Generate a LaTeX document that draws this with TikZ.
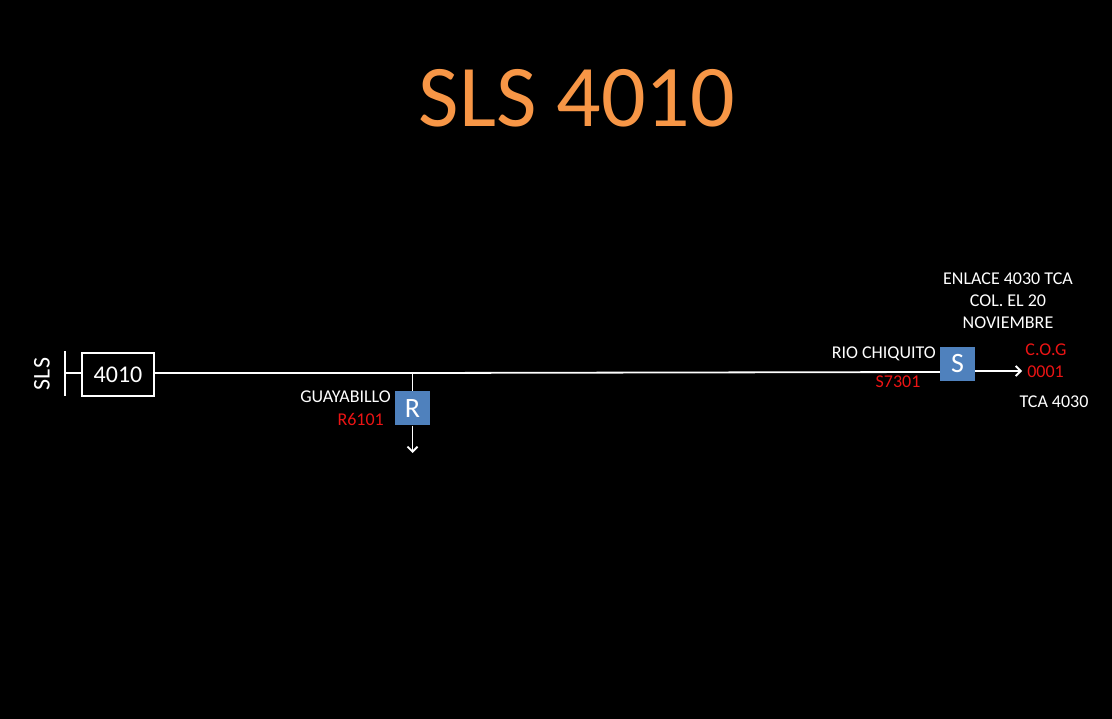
\documentclass[tikz,border=0pt]{standalone}
\usepackage{fontspec}
\setmainfont{Carlito}
\usetikzlibrary{arrows.meta}
\definecolor{ttl}{RGB}{247,150,70}
\definecolor{bx}{RGB}{79,129,189}
\definecolor{rd}{RGB}{235,20,20}
\begin{document}
\begin{tikzpicture}[x=1pt,y=-1pt,
  wire/.style={white,line width=1.8pt},
  lbl/.style={text=white,font=\fontsize{18}{22}\selectfont,inner sep=0pt},
  rlbl/.style={text=rd,font=\fontsize{18}{22}\selectfont,inner sep=0pt},
  sw/.style={fill=bx,draw=none,minimum width=35pt,minimum height=34pt,inner sep=0pt,text=white,font=\fontsize{28}{30}\selectfont},
  arr/.style={wire,-{Straight Barb[length=5pt,width=10pt]}}]
\fill[black] (0,0) rectangle (1112,719);
\useasboundingbox (0,0) rectangle (1112,719);
\node[text=ttl,font=\fontsize{88}{96}\selectfont,inner sep=0pt] (title) at (577,98) {SLS 4010};
% source
\coordinate (bartop) at (65,351);
\coordinate (barbot) at (65,396);
\draw[wire] (bartop) -- (barbot);
\node[draw=white,line width=1.2pt,minimum width=72pt,minimum height=43pt,inner sep=0pt,text=white,font=\fontsize{24}{28}\selectfont] (b4010) at (118,374.5) {4010};
\coordinate (tick) at (65,373);
\draw[wire] (tick) -- (b4010.west |- tick);
\node[text=white,font=\fontsize{24}{28}\selectfont,rotate=90,inner sep=0pt] (sls) at (42,374) {SLS};
% switches
\node[sw] (R) at (412.5,408.5) {R};
\node[sw] (S) at (957.5,364) {S};
\coordinate (junc) at (412.5,373);
\coordinate (rend) at (412.5,453);
\coordinate (send) at (1022,371);
\draw[wire] (b4010.east |- tick) -- (junc) -- (S.west |- 0,372);
\draw[wire] (junc) -- (R.north);
\draw[arr] (R.south) -- (rend);
\draw[arr] (S.east |- send) -- (send);
% labels
\node[lbl,anchor=east] (guay) at (391,397) {GUAYABILLO};
\node[rlbl,anchor=east] (r6101) at (384,419) {R6101};
\node[lbl,anchor=east] (rio) at (936,354) {RIO CHIQUITO};
\node[rlbl] (s7301) at (898,382) {S7301};
\node[lbl,align=center] (enl) at (1008,301) {ENLACE 4030 TCA\\COL. EL 20\\NOVIEMBRE};
\node[rlbl] (cog) at (1046,350) {C.O.G};
\node[rlbl] (c0001) at (1045.5,372) {0001};
\node[lbl] (tca) at (1054,402) {TCA 4030};
\end{tikzpicture}
\end{document}
